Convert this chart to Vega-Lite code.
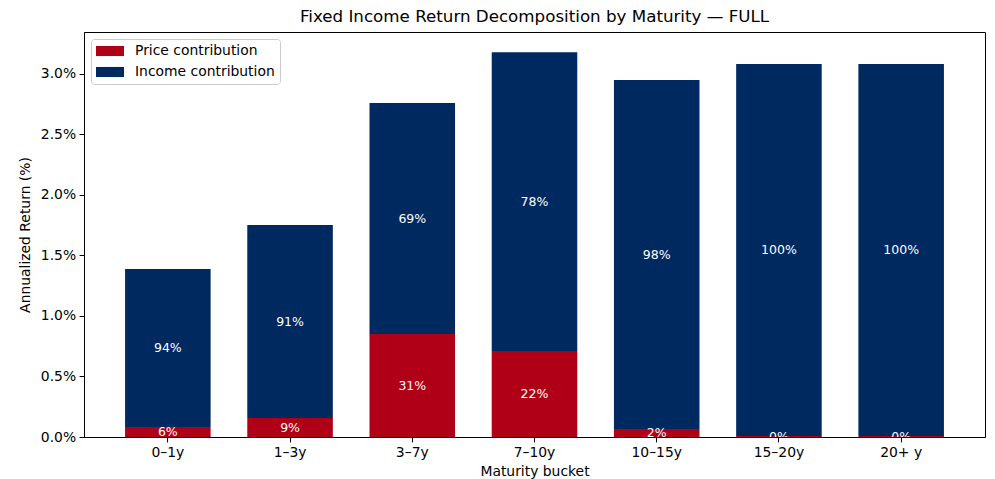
{
  "$schema": "https://vega.github.io/schema/vega-lite/v6.json",
  "autosize": "none",
  "padding": {"left": 84, "top": 32, "right": 10, "bottom": 42},
  "width": 901,
  "height": 405,
  "background": "white",
  "title": {"text": "Fixed Income Return Decomposition by Maturity — FULL", "fontSize": 16.7, "fontWeight": "normal", "color": "black", "anchor": "middle", "offset": 6, "font": "DejaVu Sans"},
  "data": {"values": [
    {"bucket": "0–1y", "component": "Price contribution", "value": 0.00083, "label": "6%"},
    {"bucket": "0–1y", "component": "Income contribution", "value": 0.01305, "label": "94%"},
    {"bucket": "1–3y", "component": "Price contribution", "value": 0.00157, "label": "9%"},
    {"bucket": "1–3y", "component": "Income contribution", "value": 0.01595, "label": "91%"},
    {"bucket": "3–7y", "component": "Price contribution", "value": 0.00851, "label": "31%"},
    {"bucket": "3–7y", "component": "Income contribution", "value": 0.01909, "label": "69%"},
    {"bucket": "7–10y", "component": "Price contribution", "value": 0.00711, "label": "22%"},
    {"bucket": "7–10y", "component": "Income contribution", "value": 0.02469, "label": "78%"},
    {"bucket": "10–15y", "component": "Price contribution", "value": 0.00066, "label": "2%"},
    {"bucket": "10–15y", "component": "Income contribution", "value": 0.02884, "label": "98%"},
    {"bucket": "15–20y", "component": "Price contribution", "value": 0.00008, "label": "0%"},
    {"bucket": "15–20y", "component": "Income contribution", "value": 0.03075, "label": "100%"},
    {"bucket": "20+ y", "component": "Price contribution", "value": 0.00008, "label": "0%"},
    {"bucket": "20+ y", "component": "Income contribution", "value": 0.03075, "label": "100%"}
  ]},
  "transform": [
    {"stack": "value", "groupby": ["bucket"], "sort": [{"field": "component", "order": "descending"}], "as": ["v0", "v1"]},
    {"calculate": "(datum.v0 + datum.v1) / 2", "as": "mid"}
  ],
  "encoding": {
    "x": {"field": "bucket", "type": "nominal", "sort": ["0–1y", "1–3y", "3–7y", "7–10y", "10–15y", "15–20y", "20+ y"],
      "scale": {"paddingInner": 0.3, "paddingOuter": 0.336},
      "axis": {"title": "Maturity bucket", "labelAngle": 0, "titlePadding": 5}}
  },
  "layer": [
    {
      "mark": {"type": "bar"},
      "encoding": {
        "y": {"field": "v0", "type": "quantitative", "scale": {"domain": [0, 0.03347], "nice": false, "zero": true},
          "axis": {"title": "Annualized Return (%)", "format": ".1%", "values": [0, 0.005, 0.01, 0.015, 0.02, 0.025, 0.03], "titlePadding": 8}},
        "y2": {"field": "v1"},
        "color": {"field": "component", "type": "nominal",
          "scale": {"domain": ["Price contribution", "Income contribution"], "range": ["#B00018", "#002960"]},
          "legend": {"title": null, "orient": "top-left", "offset": 7, "fillColor": "white", "strokeColor": "#cccccc", "cornerRadius": 3, "padding": 5,
            "symbolType": "M-2,-0.72H2V0.72H-2Z", "symbolSize": 196, "symbolOffset": 7, "symbolStrokeWidth": 0, "symbolOpacity": 1,
            "labelFontSize": 13.9, "labelOffset": 18, "rowPadding": 7, "labelColor": "black"}}
      }
    },
    {
      "mark": {"type": "text", "color": "white", "fontSize": 12.5, "baseline": "middle", "align": "center", "clip": true},
      "encoding": {
        "y": {"field": "mid", "type": "quantitative"},
        "text": {"field": "label", "type": "nominal"}
      }
    }
  ],
  "config": {
    "font": "DejaVu Sans",
    "view": {"stroke": "black", "strokeWidth": 1},
    "axis": {"grid": false, "domainColor": "black", "tickColor": "black", "tickSize": 4.9, "labelPadding": 3.5, "labelFontSize": 13.9, "titleFontSize": 13.9, "titleFontWeight": "normal", "labelColor": "black", "titleColor": "black", "labelFont": "DejaVu Sans", "titleFont": "DejaVu Sans"},
    "legend": {"labelFont": "DejaVu Sans"}
  }
}
